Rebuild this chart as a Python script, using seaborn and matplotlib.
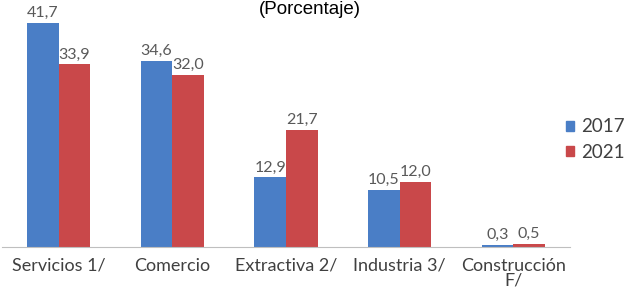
import matplotlib
matplotlib.use("Agg")
import matplotlib.pyplot as plt
import seaborn as sns
import pandas as pd
from matplotlib.patches import Patch

categories = ["Servicios 1/", "Comercio", "Extractiva 2/", "Industria 3/", "Construcción\nF/"]
years = ["2017", "2021"]
values_2017 = [41.7, 34.6, 12.9, 10.5, 0.3]
values_2021 = [33.9, 32.0, 21.7, 12.0, 0.5]
colors = ["#4A7EC6", "#C9484A"]

df = pd.DataFrame({
    "cat": categories * 2,
    "year": [years[0]] * len(categories) + [years[1]] * len(categories),
    "val": values_2017 + values_2021,
})

sns.set_theme(style="white")
plt.rcParams["font.family"] = ["Lato", "DejaVu Sans"]

W, H = 633, 291
fig = plt.figure(figsize=(W / 100, H / 100), dpi=100)
ax = fig.add_axes([2 / W, (H - 246.5) / H, 568 / W, 246.5 / H])

sns.barplot(data=df, x="cat", y="val", hue="year", palette=colors,
            width=0.555, ax=ax, legend=False, saturation=1, linewidth=0)

for cont in ax.containers:
    ax.bar_label(cont, fmt=lambda v: f"{v:.1f}".replace(".", ","),
                 fontsize=11.5, color="#595959", padding=2)

ax.set_ylim(0, 45.9)
ax.set_xlim(-0.5, 4.5)
ax.set_xlabel("")
ax.set_ylabel("")
ax.set_yticks([])
for s in ["top", "right", "left"]:
    ax.spines[s].set_visible(False)
ax.spines["bottom"].set_color("#BFBFBF")
ax.spines["bottom"].set_linewidth(0.8)
ax.tick_params(axis="x", which="major", length=0, labelsize=13,
               labelcolor="#404040", pad=8)
ax.set_xticks([i - 0.5 for i in range(len(categories) + 1)], minor=True)
ax.tick_params(axis="x", which="minor", length=4, color="#BFBFBF", width=0.8)
ax.set_xticklabels(categories, linespacing=0.95)

handles = [Patch(color=c) for c in colors]
fig.legend(handles, years, loc="center left",
           bbox_to_anchor=(566 / W, 1 - 139.5 / H),
           frameon=False, fontsize=13.5, handlelength=0.45, handleheight=0.45,
           handletextpad=0.35, labelspacing=0.45, labelcolor="#404040",
           borderaxespad=0, borderpad=0)

fig.text(310 / W, 1 - 0.5 / H, "(Porcentaje)", ha="center", va="top",
         fontsize=13.5, family=["Liberation Sans", "DejaVu Sans"], color="#000000")

fig.savefig("out.png", dpi=100)
